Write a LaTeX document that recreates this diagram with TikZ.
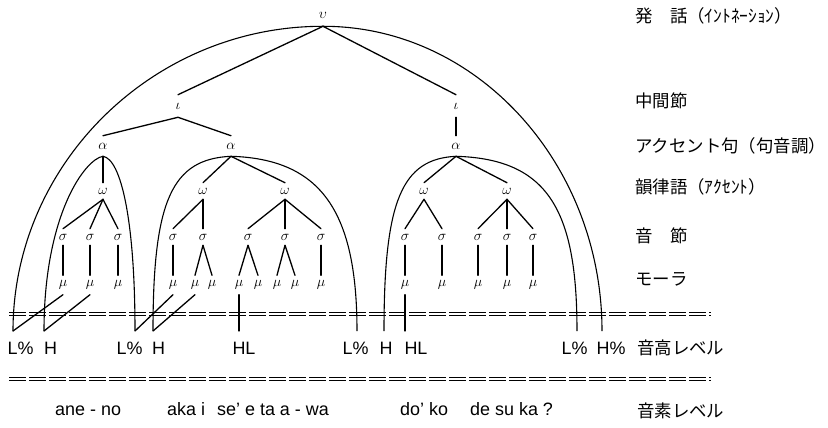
\documentclass[tikz,border=0pt]{standalone}
\usepackage{fontspec}
\setmainfont{Liberation Sans}
\newfontfamily\jpfont{Noto Sans CJK JP}
\usetikzlibrary{positioning,calc}

\tikzset{
  sym/.style={inner xsep=1bp, inner ysep=5bp, font=\fontsize{15}{15}\selectfont},
  branch/.style={line width=1.3bp, line cap=round},
  bound/.style={line width=1.1bp},
  tier/.style={line width=0.8bp, dash pattern=on 17bp off 3bp},
  tone/.style={font=\fontsize{18}{18}\selectfont, inner sep=0pt, anchor=base},
  phon/.style={font=\fontsize{18}{18}\selectfont, inner sep=0pt, anchor=base west},
  level/.style={font=\fontsize{17.5}{17.5}\jpfont, inner sep=0pt, anchor=west}
}

\begin{document}
\begin{tikzpicture}[x=1bp, y=-1bp]
\useasboundingbox (0,0) rectangle (828,427);

% Prosodic tree
\node[sym, inner ysep=8bp] (u) at (323,15) {$\upsilon$};
\foreach \n/\x in {i1/178, i2/456}
    \node[sym, inner ysep=8bp] (\n) at (\x,106) {$\iota$};
\foreach \n/\x in {a1/103, a2/231, a3/456}
    \node[sym, inner ysep=7bp] (\n) at (\x,146) {$\alpha$};
\foreach \n/\x in {w1/103, w2/203, w3/285, w4/424, w5/507}
    \node[sym] (\n) at (\x,191) {$\omega$};
\foreach \n/\x in {s1/63, s2/90, s3/118, s4/173, s5/203, s6/248, s7/285, s8/321,
                   s9/405, s10/442, s11/478, s12/507, s13/533}
    \node[sym] (\n) at (\x,237) {$\sigma$};
\foreach \n/\x in {m1/63, m2/90, m3/118, m4/173, m5/195, m6/212, m7/239, m8/258,
                   m9/277, m10/295, m11/321, m12/405, m13/442, m14/478, m15/507, m16/533}
    \node[sym] (\n) at (\x,285) {$\mu$};

\foreach \a/\b in {u/i1, u/i2, i1/a1, i1/a2, i2/a3, a1/w1, a2/w2, a2/w3, a3/w4, a3/w5,
                   w1/s1, w1/s2, w1/s3, w2/s4, w2/s5, w3/s6, w3/s7, w3/s8,
                   w4/s9, w4/s10, w5/s11, w5/s12, w5/s13,
                   s1/m1, s2/m2, s3/m3, s4/m4, s5/m5, s5/m6, s6/m7, s6/m8, s7/m9, s7/m10,
                   s8/m11, s9/m12, s10/m13, s11/m14, s12/m15, s13/m16}
    \draw[branch] (\a.south) -- (\b.north);

% Tiers (double dashed rules)
\foreach \y in {312.5, 315.5, 377, 380}
    \draw[tier] (9,\y) -- (711,\y);

% Tone level
\foreach \n/\x in {e1/13, e2/44, e3/135, e4/153, e5/239, e6/357, e7/384, e8/405, e9/577, e10/602}
    \coordinate (\n) at (\x,331);
\foreach \n/\x/\t in {t1/20.5/L\%, t2/50.5/H, t3/129.5/L\%, t4/158.5/H, t5/244/HL,
                      t6/355.5/L\%, t7/386/H, t8/416/HL, t9/574.5/L\%, t10/611/H\%}
    \node[tone] (\n) at (\x,354.5) {\t};

\foreach \a/\b in {m1/e1, m2/e2, m4/e3, m5/e4, m7/e5, m12/e8}
    \draw[branch] (\a.south) -- (\b);

% Domains
\draw[bound] (e1) .. controls (13,164) and (153,26) .. (u.south)
                  .. controls (477,26) and (602,164) .. (e10);
\draw[bound] (e2) .. controls (44,215) and (85,159) .. (a1.south)
                  .. controls (121,159) and (135,220) .. (e3);
\draw[bound] (e4) .. controls (153,200) and (172,159) .. (a2.south)
                  .. controls (320,159) and (357,210) .. (e6);
\draw[bound] (e7) .. controls (384,200) and (402,159) .. (a3.south)
                  .. controls (548,159) and (577,210) .. (e9);

% Phoneme level
\node[phon] (p1) at (55,415) {ane - no};
\node[phon] (p2) at (167,415) {aka i};
\node[phon] (p3) at (217,415) {se’ e ta a - wa};
\node[phon] (p4) at (400,415) {do’ ko};
\node[phon] (p5) at (470,415) {de su ka ?};

% Level names
\node[level] (l1) at (635,16) {発　話（ｲﾝﾄﾈｰｼｮﾝ）};
\node[level] (l2) at (635,101) {中間節};
\node[level] (l3) at (635,146) {アクセント句（句音調）};
\node[level] (l4) at (635,187) {韻律語（ｱｸｾﾝﾄ）};
\node[level] (l5) at (635,236) {音　節};
\node[level] (l6) at (635,279) {モーラ};
\node[level] (l7) at (637,348) {音高レベル};
\node[level] (l8) at (637,411) {音素レベル};

\end{tikzpicture}
\end{document}
